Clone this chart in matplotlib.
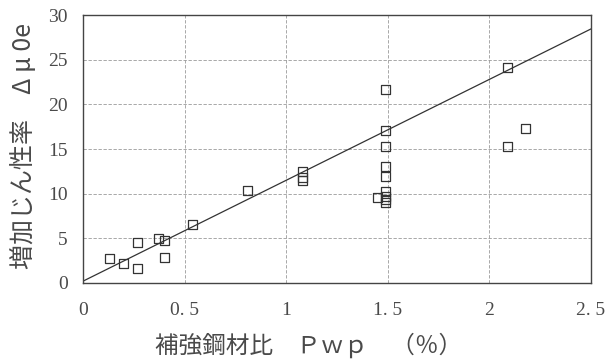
import matplotlib
matplotlib.use("Agg")
import matplotlib.pyplot as plt
import numpy as np

# 補強鋼材比 Pwp (%) と 増加じん性率 Δμ0e
pwp = [0.13, 0.20, 0.27, 0.27, 0.37, 0.40, 0.40, 0.54, 0.81,
       1.08, 1.08, 1.08,
       1.49, 1.49, 1.49, 1.49, 1.49, 1.49, 1.45, 1.49, 1.49, 1.49,
       2.09, 2.18, 2.09]
dmu = [2.7, 2.2, 1.6, 4.5, 5.0, 4.8, 2.8, 6.6, 10.4,
       12.5, 11.8, 11.5,
       21.7, 17.1, 15.3, 13.1, 11.9, 10.3, 9.6, 9.7, 9.3, 9.0,
       24.1, 17.3, 15.3]

# 回帰直線
fit_intercept = 0.2
fit_slope = 11.3

x_ticks = [0, 0.5, 1, 1.5, 2, 2.5]
x_tick_labels = ["0", "0. 5", "1", "1. 5", "2", "2. 5"]
y_ticks = [0, 5, 10, 15, 20, 25, 30]

ink = "#4a4a4a"
num_font = "Liberation Serif"
jp_font = ["Noto Sans CJK JP", "DejaVu Sans"]

fig = plt.figure(figsize=(6.13, 3.6), dpi=100)
ax = fig.add_axes([0.1354, 0.214, 0.8286, 0.744])

ax.scatter(pwp, dmu, marker="s", s=42, facecolors="none",
           edgecolors="#333333", linewidths=0.9, zorder=3)

xs = np.array([0, 2.5])
ax.plot(xs, fit_intercept + fit_slope * xs, color="#333333", lw=0.9, zorder=2)

ax.set_xlim(0, 2.5)
ax.set_ylim(0, 30)
ax.set_xticks(x_ticks)
ax.set_xticklabels(x_tick_labels)
ax.set_yticks(y_ticks)
ax.grid(True, color="#9a9a9a", lw=0.6, ls=(0, (4, 2)))
ax.tick_params(length=0, colors=ink, labelsize=14)
ax.tick_params(axis="x", pad=14)
ax.tick_params(axis="y", pad=11)
for lab in ax.get_xticklabels() + ax.get_yticklabels():
    lab.set_fontfamily(num_font)

for sp in ax.spines.values():
    sp.set_color("#444444")
    sp.set_linewidth(1.0)

ax.set_xlabel("補強鋼材比　Ｐｗｐ　（％）", family=jp_font, fontsize=17,
              color=ink)
ax.xaxis.set_label_coords(0.445, -0.185)
ax.set_ylabel("増加じん性率　Δ μ 0e", family=jp_font, fontsize=18,
              color=ink)
ax.yaxis.set_label_coords(-0.09, 0.51)

fig.savefig("out.png", dpi=100)
